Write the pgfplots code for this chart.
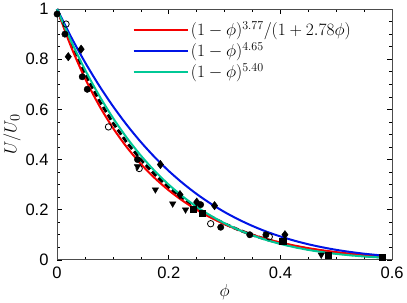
\documentclass[border=0pt]{standalone}
\usepackage{pgfplots}
\pgfplotsset{compat=1.18}
\usepackage{fontspec}
\setmainfont{Liberation Sans}
\definecolor{cred}{RGB}{245,0,0}
\definecolor{cblue}{RGB}{0,20,230}
\definecolor{cgreen}{RGB}{0,200,150}
\begin{document}
\begin{tikzpicture}
\begin{axis}[
  scale only axis, width=334pt, height=250pt,
  xmin=0, xmax=0.6, ymin=0, ymax=1,
  xtick={0,0.2,0.4,0.6}, ytick={0,0.2,0.4,0.6,0.8,1},
  minor x tick num=3, minor y tick num=3,
  tick align=inside, major tick length=5pt, minor tick length=3pt,
  tick style={black, line width=0.6pt},
  axis line style={line width=0.8pt, black!70},
  tick label style={font=\fontsize{16.5}{18}\selectfont},
  /pgf/number format/assume math mode=true,
  xticklabel style={yshift=-4pt},
  yticklabel style={xshift=-5pt},
  xlabel={\fontsize{19}{20}\selectfont $\phi$},
  ylabel={\fontsize{19}{20}\selectfont $U/U_0$},
  xlabel style={yshift=2pt},
  ylabel style={yshift=-2pt},
  legend style={at={(0.222,0.962)}, anchor=north west, draw=none, fill=none,
    font=\fontsize{17}{19}\selectfont, row sep=1.5pt, inner sep=1pt},
  legend cell align=left,
  legend image code/.code={\draw[#1] (0pt,0pt) -- (54pt,0pt);},
  clip=false,
]
% data markers
\addplot[only marks, mark=*, mark size=3.2pt, black, forget plot] coordinates {
(0,0.98) (0.014,0.90) (0.045,0.73) (0.054,0.68) (0.144,0.40) (0.257,0.22)
(0.293,0.13) (0.345,0.10) (0.374,0.10)};
\addplot[only marks, mark=o, mark size=3.2pt, black, line width=0.8pt, forget plot] coordinates {
(0.016,0.94) (0.092,0.53) (0.147,0.364) (0.275,0.144) (0.38,0.092)};
\addplot[only marks, mark=diamond*, mark size=4.2pt, black, forget plot] coordinates {
(0.02,0.81) (0.043,0.84) (0.185,0.38) (0.22,0.26) (0.25,0.23) (0.282,0.216) (0.408,0.10)};
\addplot[only marks, mark=triangle*, mark options={rotate=180}, mark size=3.7pt, black, forget plot] coordinates {
(0.144,0.372) (0.176,0.28) (0.207,0.224) (0.23,0.20) (0.473,0.02)};
\addplot[only marks, mark=square*, mark size=3pt, black, forget plot] coordinates {
(0.243,0.20) (0.26,0.184) (0.404,0.076) (0.485,0.02) (0.582,0.01)};
% black dashed curve
\addplot[black, line width=2.8pt, dash pattern=on 6pt off 3pt, forget plot] coordinates {
(0,1) (0.025,0.8611) (0.05,0.7408) (0.075,0.6366) (0.1,0.5460) (0.125,0.4674)
(0.15,0.3991) (0.175,0.3398) (0.2,0.2884) (0.225,0.2439) (0.25,0.2055)
(0.275,0.1724) (0.3,0.1439) (0.325,0.1196) (0.35,0.0988) (0.375,0.0811)
(0.4,0.0662) (0.425,0.0536) (0.45,0.0431) (0.475,0.0344) (0.5,0.0272)
(0.525,0.0213) (0.55,0.0164) (0.575,0.0126) (0.585,0.0112)};
% red
\addplot[cred, line width=2pt, smooth] coordinates {
(0,1) (0.025,0.8499) (0.05,0.7236) (0.075,0.6168) (0.1,0.5260) (0.125,0.4486)
(0.15,0.3824) (0.175,0.3257) (0.2,0.2771) (0.225,0.2353) (0.25,0.1994)
(0.275,0.1686) (0.3,0.1421) (0.325,0.1194) (0.35,0.0999) (0.375,0.0832)
(0.4,0.0690) (0.425,0.0569) (0.45,0.0466) (0.475,0.0380) (0.5,0.0307)
(0.525,0.0246) (0.55,0.0195) (0.575,0.0153) (0.585,0.0138)};
\addlegendentry{$(1-\phi)^{3.77}/(1+2.78\phi)$}
% blue
\addplot[cblue, line width=2pt, smooth] coordinates {
(0,1) (0.025,0.8889) (0.05,0.7878) (0.075,0.6959) (0.1,0.6127) (0.125,0.5375)
(0.15,0.4697) (0.175,0.4088) (0.2,0.3543) (0.225,0.3057) (0.25,0.2624)
(0.275,0.2242) (0.3,0.1904) (0.325,0.1608) (0.35,0.1349) (0.375,0.1124)
(0.4,0.0930) (0.425,0.0763) (0.45,0.0620) (0.475,0.0500) (0.5,0.0398)
(0.525,0.0314) (0.55,0.0244) (0.575,0.0187) (0.585,0.0168)};
\addlegendentry{$(1-\phi)^{4.65}$}
% green
\addplot[cgreen, line width=2pt, smooth] coordinates {
(0,1) (0.025,0.8722) (0.05,0.7581) (0.075,0.6564) (0.1,0.5661) (0.125,0.4862)
(0.15,0.4158) (0.175,0.3539) (0.2,0.2997) (0.225,0.2525) (0.25,0.2115)
(0.275,0.1761) (0.3,0.1457) (0.325,0.1197) (0.35,0.0977) (0.375,0.0790)
(0.4,0.0634) (0.425,0.0504) (0.45,0.0396) (0.475,0.0308) (0.5,0.0237)
(0.525,0.0180) (0.55,0.0134) (0.575,0.0099) (0.585,0.0087)};
\addlegendentry{$(1-\phi)^{5.40}$}
\end{axis}
\end{tikzpicture}
\end{document}
